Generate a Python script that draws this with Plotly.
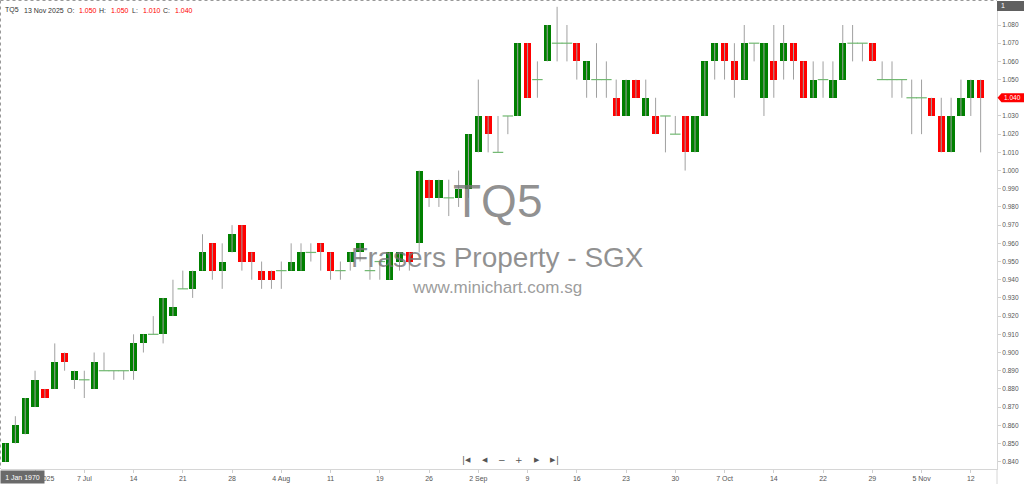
import plotly.graph_objects as go
import pandas as pd

# ---------------- data ----------------
opens = [0.840, 0.850, 0.855, 0.870, 0.880, 0.880, 0.900, 0.885, 0.885, 0.880,
         0.890, 0.890, 0.890, 0.890, 0.905, 0.910, 0.910, 0.920, 0.935, 0.935,
         0.945, 0.960, 0.945, 0.955, 0.970, 0.955, 0.945, 0.945, 0.945, 0.945,
         0.945, 0.955, 0.960, 0.955, 0.945, 0.950, 0.955, 0.945, 0.950, 0.940,
         0.950, 0.955, 0.960, 0.995, 0.985, 0.985, 0.985, 0.990, 1.010, 1.030,
         1.010, 1.030, 1.030, 1.070, 1.050, 1.060, 1.070, 1.070, 1.070, 1.050,
         1.050, 1.050, 1.040, 1.030, 1.050, 1.030, 1.030, 1.030, 1.020, 1.030,
         1.010, 1.030, 1.060, 1.070, 1.060, 1.050, 1.070, 1.040, 1.060, 1.060,
         1.070, 1.060, 1.040, 1.050, 1.040, 1.050, 1.070, 1.070, 1.070, 1.050,
         1.050, 1.050, 1.040, 1.040, 1.040, 1.030, 1.010, 1.030, 1.040, 1.050]
highs = [0.850, 0.865, 0.875, 0.890, 0.880, 0.905, 0.900, 0.890, 0.890, 0.900,
         0.900, 0.890, 0.890, 0.910, 0.910, 0.920, 0.930, 0.940, 0.945, 0.945,
         0.965, 0.960, 0.960, 0.970, 0.970, 0.955, 0.950, 0.945, 0.950, 0.960,
         0.960, 0.960, 0.960, 0.955, 0.950, 0.955, 0.960, 0.955, 0.950, 0.955,
         0.955, 0.955, 1.000, 0.995, 0.995, 0.995, 1.000, 1.020, 1.050, 1.030,
         1.030, 1.030, 1.070, 1.070, 1.060, 1.080, 1.090, 1.080, 1.070, 1.060,
         1.070, 1.060, 1.050, 1.050, 1.050, 1.050, 1.040, 1.030, 1.030, 1.030,
         1.030, 1.060, 1.070, 1.070, 1.070, 1.080, 1.070, 1.070, 1.080, 1.080,
         1.070, 1.060, 1.060, 1.060, 1.060, 1.080, 1.080, 1.070, 1.070, 1.060,
         1.060, 1.050, 1.050, 1.050, 1.040, 1.040, 1.040, 1.050, 1.050, 1.050]
lows = [0.840, 0.850, 0.855, 0.870, 0.875, 0.880, 0.890, 0.880, 0.875, 0.880,
        0.890, 0.885, 0.885, 0.885, 0.900, 0.910, 0.905, 0.920, 0.935, 0.930,
        0.945, 0.940, 0.935, 0.955, 0.945, 0.940, 0.935, 0.935, 0.935, 0.945,
        0.945, 0.950, 0.945, 0.940, 0.940, 0.945, 0.950, 0.940, 0.940, 0.940,
        0.945, 0.945, 0.955, 0.980, 0.980, 0.975, 0.980, 0.985, 1.010, 1.010,
        1.010, 1.020, 1.030, 1.040, 1.040, 1.060, 1.060, 1.060, 1.050, 1.040,
        1.040, 1.040, 1.030, 1.030, 1.040, 1.030, 1.020, 1.010, 1.020, 1.000,
        1.010, 1.030, 1.050, 1.050, 1.040, 1.050, 1.060, 1.030, 1.040, 1.050,
        1.050, 1.040, 1.040, 1.040, 1.040, 1.050, 1.060, 1.060, 1.060, 1.050,
        1.040, 1.040, 1.020, 1.020, 1.030, 1.010, 1.010, 1.030, 1.030, 1.010]
closes = [0.850, 0.860, 0.875, 0.885, 0.875, 0.895, 0.895, 0.890, 0.885, 0.895,
          0.890, 0.890, 0.890, 0.905, 0.910, 0.910, 0.930, 0.925, 0.935, 0.945,
          0.955, 0.945, 0.950, 0.965, 0.950, 0.950, 0.940, 0.940, 0.945, 0.950,
          0.955, 0.955, 0.955, 0.945, 0.945, 0.955, 0.960, 0.945, 0.950, 0.955,
          0.955, 0.950, 1.000, 0.985, 0.995, 0.985, 0.990, 1.020, 1.030, 1.020,
          1.010, 1.030, 1.070, 1.040, 1.050, 1.080, 1.070, 1.070, 1.060, 1.060,
          1.050, 1.050, 1.030, 1.050, 1.040, 1.040, 1.020, 1.030, 1.020, 1.010,
          1.030, 1.060, 1.070, 1.060, 1.050, 1.070, 1.070, 1.070, 1.050, 1.070,
          1.060, 1.040, 1.050, 1.050, 1.050, 1.070, 1.070, 1.070, 1.060, 1.050,
          1.050, 1.050, 1.040, 1.040, 1.030, 1.010, 1.030, 1.040, 1.050, 1.040]

non_trading_days = ["2025-08-18", "2025-10-20"]
dates = [d.strftime("%Y-%m-%d") for d in pd.bdate_range("2025-06-25", "2025-11-13")
         if d.strftime("%Y-%m-%d") not in non_trading_days]

tick_dates = ["2025-06-30", "2025-07-07", "2025-07-14", "2025-07-21", "2025-07-28",
              "2025-08-04", "2025-08-11", "2025-08-19", "2025-08-26", "2025-09-02",
              "2025-09-09", "2025-09-16", "2025-09-23", "2025-09-30", "2025-10-07",
              "2025-10-14", "2025-10-22", "2025-10-29", "2025-11-05", "2025-11-12"]
tick_text = ["30 Jun 2025", "7 Jul", "14", "21", "28", "4 Aug", "11", "19", "26",
             "2 Sep", "9", "16", "23", "30", "7 Oct", "14", "22", "29", "5 Nov", "12"]

price_ticks = [0.840, 0.850, 0.860, 0.870, 0.880, 0.890, 0.900, 0.910, 0.920,
               0.930, 0.940, 0.950, 0.960, 0.970, 0.980, 0.990, 1.000, 1.010,
               1.020, 1.030, 1.040, 1.050, 1.060, 1.070, 1.080]

symbol = "TQ5"
company = "Frasers Property - SGX"
site = "www.minichart.com.sg"
last_label = "13 Nov 2025"

# ---------------- styling ----------------
W, H = 1024, 484
ML, MR, MT, MB = 1, 27, 1, 15
PW = W - ML - MR
PH = H - MT - MB
UP, DOWN = "#008000", "#ff0000"
DOJI = "#70b870"
WICK = "#a0a0a0"
FONT = "Liberation Sans"


def px2x(px):
    return (px - ML) / PW


def px2y(py):
    return (H - MB - py) / PH


# wicks
wx, wy = [], []
for d, lo, hi in zip(dates, lows, highs):
    wx += [d, d, None]
    wy += [lo, hi, None]

# bodies / dojis
bx, bh, bb, bc = [], [], [], []
dx, dy = [], []
for d, o, c in zip(dates, opens, closes):
    if abs(c - o) < 1e-9:
        dx.append(d)
        dy.append(c)
    else:
        bx.append(d)
        bh.append(abs(c - o))
        bb.append(min(o, c))
        bc.append(UP if c > o else DOWN)

fig = go.Figure()
fig.add_trace(go.Scatter(x=wx, y=wy, mode="lines", line=dict(color=WICK, width=1),
                         hoverinfo="skip", showlegend=False))
fig.add_trace(go.Bar(x=bx, y=bh, base=bb, width=0.74,
                     marker=dict(color=bc, line=dict(width=0)),
                     hoverinfo="skip", showlegend=False))
fig.add_trace(go.Scatter(x=dx, y=dy, mode="markers",
                         marker=dict(symbol="line-ew", size=7.5,
                                     line=dict(color=DOJI, width=1.2)),
                         hoverinfo="skip", showlegend=False))

# y range derived from pixel calibration of the reference
y_top = 1.080 + (25 - MT) / 1819.5
y_bot = 1.080 - (H - MB - 25) / 1819.5
x_left = (ML - 5.5) / 9.85
x_right = (ML + PW - 5.5) / 9.85

annotations = []
# header line
hdr = [(4, symbol, "#333"), (23, last_label, "#333"),
       (66, "O:", "#333"), (78, f"{opens[-1]:.3f}", DOWN),
       (98, "H:", "#333"), (110, f"{highs[-1]:.3f}", DOWN),
       (131, "L:", "#333"), (142, f"{lows[-1]:.3f}", DOWN),
       (162, "C:", "#333"), (174, f"{closes[-1]:.3f}", DOWN)]
for px, t, col in hdr:
    annotations.append(dict(xref="paper", yref="paper", x=px2x(px), y=px2y(10),
                            xanchor="left", yanchor="middle", text=t, showarrow=False,
                            borderpad=0, font=dict(size=7, color=col, family=FONT)))
# watermark
wm = "rgba(115,115,115,0.78)"
annotations += [
    dict(xref="paper", yref="paper", x=px2x(497), y=px2y(201), text=symbol,
         showarrow=False, xanchor="center", yanchor="middle",
         font=dict(size=46, color=wm, family=FONT)),
    dict(xref="paper", yref="paper", x=px2x(497), y=px2y(257), text=company,
         showarrow=False, xanchor="center", yanchor="middle",
         font=dict(size=28, color=wm, family=FONT)),
    dict(xref="paper", yref="paper", x=px2x(497), y=px2y(287), text=site,
         showarrow=False, xanchor="center", yanchor="middle",
         font=dict(size=17, color="rgba(130,130,130,0.8)", family=FONT)),
]
# navigation icons
nav = [(463.8, "|"), (467.5, "◀"), (484.5, "◀"), (501.5, "−"), (519, "+"),
       (536.5, "▶"), (553, "▶"), (557.5, "|")]
for px, t in nav:
    annotations.append(dict(xref="paper", yref="paper", x=px2x(px), y=px2y(459.5),
                            text=t, showarrow=False, xanchor="center", yanchor="middle",
                            borderpad=0,
                            font=dict(size=7 if t in "◀▶" else 9, color="#555",
                                      family="DejaVu Sans")))
# last price label text
annotations.append(dict(xref="paper", yref="y", x=px2x(1012), y=closes[-1],
                        text=f"{closes[-1]:.3f}", showarrow=False, xanchor="center",
                        yanchor="middle", borderpad=0,
                        font=dict(size=6.5, color="white", family=FONT)))
# top-right "1" box text
annotations.append(dict(xref="paper", yref="paper", x=px2x(1000), y=px2y(6),
                        text="1", showarrow=False, xanchor="left", yanchor="middle",
                        borderpad=0, font=dict(size=7, color="white", family=FONT)))
# crosshair date tooltip
annotations.append(dict(xref="paper", yref="paper", x=px2x(0), y=px2y(476.5),
                        text="1 Jan 1970", showarrow=False, xanchor="left",
                        yanchor="middle", bgcolor="#6a6a6a", borderpad=1,
                        width=41, height=10, align="center",
                        font=dict(size=7, color="white", family=FONT)))

shapes = [
    # dotted chart border (top & left)
    dict(type="line", xref="paper", yref="paper", x0=px2x(0.5), x1=px2x(997),
         y0=px2y(0.5), y1=px2y(0.5), line=dict(color="#999", width=1, dash="dot")),
    dict(type="line", xref="paper", yref="paper", x0=px2x(0.5), x1=px2x(0.5),
         y0=px2y(0.5), y1=px2y(469), line=dict(color="#999", width=1, dash="dot")),
    # right axis separator continuing to bottom
    dict(type="line", xref="paper", yref="paper", x0=1, x1=1, y0=px2y(469),
         y1=px2y(484), line=dict(color="#d6d6d6", width=1)),
    # top-right box
    dict(type="rect", xref="paper", yref="paper", x0=px2x(997), x1=px2x(1024),
         y0=px2y(1), y1=px2y(11), fillcolor="#606060", line=dict(width=0)),
    # last price marker
    dict(type="path", xref="paper", yref="y", xsizemode="pixel", ysizemode="pixel",
         xanchor=px2x(997.5), yanchor=closes[-1],
         path="M0,0 L4,4.5 L27,4.5 L27,-4.5 L4,-4.5 Z",
         fillcolor=DOWN, line=dict(width=0)),
]

fig.update_layout(
    width=W, height=H,
    margin=dict(l=ML, r=MR, t=MT, b=MB, pad=0),
    paper_bgcolor="white", plot_bgcolor="white",
    barmode="overlay", bargap=0,
    showlegend=False,
    font=dict(family=FONT, size=7, color="#555"),
    xaxis=dict(type="category", categoryorder="array", categoryarray=dates,
               range=[x_left, x_right], tickmode="array", tickvals=tick_dates,
               ticktext=tick_text, tickangle=0, ticks="outside", ticklen=3,
               tickcolor="#cfcfcf", tickfont=dict(size=7, color="#555", family=FONT),
               showline=True, linecolor="#d6d6d6", linewidth=1, mirror=False,
               showgrid=False, zeroline=False, fixedrange=True),
    yaxis=dict(side="right", range=[y_bot, y_top], tickmode="array",
               tickvals=price_ticks, ticktext=[f"{p:.3f}" for p in price_ticks],
               ticks="outside", ticklen=3, tickcolor="#cfcfcf",
               tickfont=dict(size=6.5, color="#555", family=FONT),
               showline=True, linecolor="#d6d6d6", linewidth=1,
               showgrid=False, zeroline=False, fixedrange=True),
    annotations=annotations,
    shapes=shapes,
)

fig.write_html("out.html", config={"displayModeBar": False},
               post_script="document.body.style.margin='0';document.body.style.padding='0';document.body.style.overflow='hidden';")
